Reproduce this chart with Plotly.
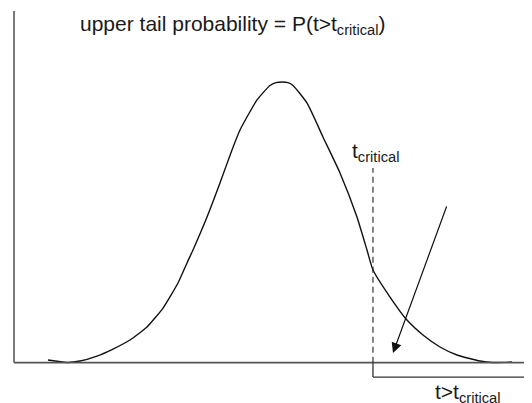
import plotly.graph_objects as go

# Curve (t value, density)
t_vals = [-5.143, -4.725, -4.440, -4.066, -3.714, -3.341, -2.967, -2.615, -2.286, -2.088,
          -1.956, -1.648, -1.363, -1.099, -0.923, -0.549, -0.264, -0.132, 0.0, 0.132, 0.242,
          0.549, 0.901, 1.275, 1.648, 1.868, 2.000, 2.374, 2.747, 3.099, 3.473, 3.846, 4.352,
          4.637, 5.055]
density = [0.0038, 0.0004, 0.0024, 0.0095, 0.0195, 0.0324, 0.0509, 0.0779, 0.1136, 0.1421,
           0.1606, 0.2076, 0.2561, 0.3031, 0.3316, 0.3744, 0.3950, 0.3990, 0.4000, 0.3990,
           0.3950, 0.3701, 0.3216, 0.2703, 0.2076, 0.1606, 0.1321, 0.0936, 0.0608, 0.0395,
           0.0224, 0.0110, 0.0024, 0.0003, 0.0010]

t_critical = 2.0
x_range = [-6.022, 5.495]
y_range = [-0.0574, 0.5054]
y_axis_x = -5.89
y_axis_top = 0.5012
dash_top = 0.2775
bracket_bottom = -0.0204
arrow_start = (3.63, 0.2247)
arrow_tip = (2.44, 0.0138)

title_text = "upper tail probability = P(t>t<sub>critical</sub>)"
tcrit_text = "t<sub>critical</sub>"
region_text = "t>t<sub>critical</sub>"

fig = go.Figure()
fig.add_trace(go.Scatter(x=t_vals, y=density, mode="lines",
                         line=dict(color="#111111", width=1.4, shape="spline", smoothing=0.5),
                         hoverinfo="skip", showlegend=False))

shapes = [
    dict(type="line", x0=y_axis_x, x1=y_axis_x, y0=0, y1=y_axis_top,
         line=dict(color="#333333", width=1.3)),
    dict(type="line", x0=y_axis_x, x1=x_range[1] + 0.1, y0=0, y1=0,
         line=dict(color="#555555", width=1.8)),
    dict(type="line", x0=t_critical, x1=t_critical, y0=0, y1=dash_top,
         line=dict(color="#222222", width=1.1, dash="6px,4px")),
    dict(type="line", x0=t_critical, x1=t_critical, y0=0, y1=bracket_bottom,
         line=dict(color="#333333", width=1.3)),
    dict(type="line", x0=t_critical, x1=x_range[1] + 0.1, y0=bracket_bottom, y1=bracket_bottom,
         line=dict(color="#333333", width=1.3)),
]

font = dict(family="Liberation Sans, Arial, sans-serif", size=21, color="#1a1a1a")
annotations = [
    dict(x=-4.484, y=0.4812, xref="x", yref="y", text=title_text, showarrow=False,
         xanchor="left", yanchor="middle", font=font),
    dict(x=2.066, y=0.300, xref="x", yref="y", text=tcrit_text, showarrow=False,
         xanchor="center", yanchor="middle", font=font),
    dict(x=3.319, y=-0.0218, xref="x", yref="y", text=region_text, showarrow=False,
         xanchor="left", yanchor="top", font=font),
    dict(x=arrow_tip[0], y=arrow_tip[1], ax=arrow_start[0], ay=arrow_start[1],
         xref="x", yref="y", axref="x", ayref="y", text="", showarrow=True,
         arrowhead=2, arrowsize=1.7, arrowwidth=1.2, arrowcolor="#111111"),
]

fig.update_layout(
    width=524, height=395,
    margin=dict(l=0, r=0, t=0, b=0),
    paper_bgcolor="white", plot_bgcolor="white",
    xaxis=dict(range=x_range, visible=False, fixedrange=True),
    yaxis=dict(range=y_range, visible=False, fixedrange=True),
    shapes=shapes, annotations=annotations, showlegend=False,
)

fig.write_html("out.html", config={"displayModeBar": False})
